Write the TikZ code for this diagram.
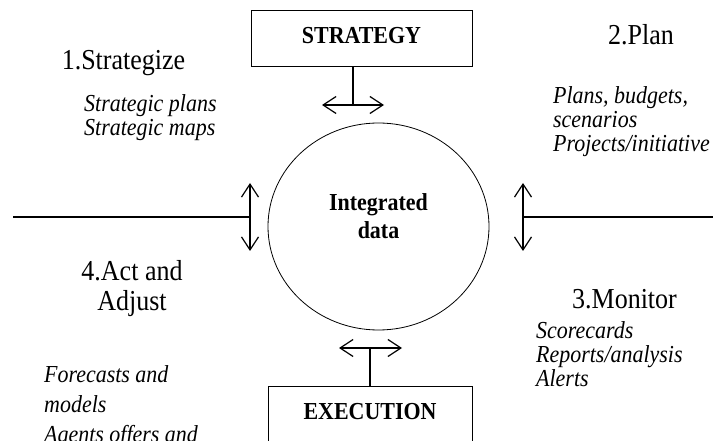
\documentclass[tikz,border=0pt]{standalone}
\usepackage{fontspec}
\setmainfont{Liberation Serif}[FakeStretch=0.9]
\usetikzlibrary{positioning, shapes.geometric, arrows.meta}

\begin{document}
\begin{tikzpicture}[x=1pt, y=-1pt,
        box/.style={draw, line width=1pt, minimum width=221pt, minimum height=56pt, inner sep=0pt, text depth=7pt, font=\fontsize{24.4}{26}\selectfont\bfseries},
        stage/.style={font=\fontsize{28.9}{30}\selectfont, align=center, inner sep=0pt},
        items/.style={font=\fontsize{24.4}{24}\selectfont\itshape, align=left, inner sep=0pt},
        dbl/.style={{Straight Barb[length=13pt,width=17pt]}-{Straight Barb[length=13pt,width=17pt]}, line width=1.2pt},
        link/.style={line width=1.1pt}]
        \path[use as bounding box, clip] (0,0) rectangle (713,441);
        \begin{scope}
            \node[box] (strategy) at (361.5,39) {STRATEGY};
            \node[box, anchor=north, minimum width=204pt, minimum height=0pt, text height=16pt, text depth=30pt, inner ysep=17pt] (execution) at (370,386) {EXECUTION};
            \node[ellipse, draw, line width=0.8pt, minimum width=221pt, minimum height=207pt, inner sep=0pt, text depth=20pt, align=center, font=\fontsize{24.4}{28}\selectfont\bfseries] (data) at (378.5,226.5) {Integrated\\data};
        \end{scope}
        \begin{scope}
            \coordinate (topmid) at (353,105);
            \coordinate (topl) at (322,105);
            \coordinate (topr) at (384,105);
            \coordinate (botl) at (339,348);
            \coordinate (botr) at (402,348);
            \coordinate (lup) at (250,183);
            \coordinate (ldown) at (250,251);
            \coordinate (lend) at (13,217);
            \coordinate (rup) at (523,183);
            \coordinate (rdown) at (523,251);
            \coordinate (rend) at (713,217);
            \draw[link] (strategy.south -| topmid) -- (topmid);
            \draw[dbl] (topl) -- (topr);
            \draw[link] (execution.north) -- (execution.north |- botl);
            \draw[dbl] (botl) -- (botr);
            \draw[link] (lend) -- (lup |- lend);
            \draw[dbl] (lup) -- (ldown);
            \draw[link] (rend) -- (rup |- rend);
            \draw[dbl] (rup) -- (rdown);
        \end{scope}
        \begin{scope}
            \node[stage, anchor=base] (s1) at (123.5,70) {1.Strategize};
            \node[items, anchor=base west] (s1items) at (84,136) {Strategic plans\\Strategic maps};
            \node[stage, anchor=base] (s2) at (641,45) {2.Plan};
            \node[items, anchor=base west] (s2items) at (553,152) {Plans, budgets,\\scenarios\\Projects/initiative};
            \node[stage, anchor=base] (s3) at (624.5,308) {3.Monitor};
            \node[items, anchor=base west] (s3items) at (536,386) {Scorecards\\Reports/analysis\\Alerts};
            \node[stage, anchor=base] (s4) at (132,310) {4.Act and\\Adjust};
            \node[items, anchor=base west] (s4items) at (44,442) {Forecasts and\\[6pt]models\\[6pt]Agents offers and};
        \end{scope}
    \end{tikzpicture}
\end{document}
